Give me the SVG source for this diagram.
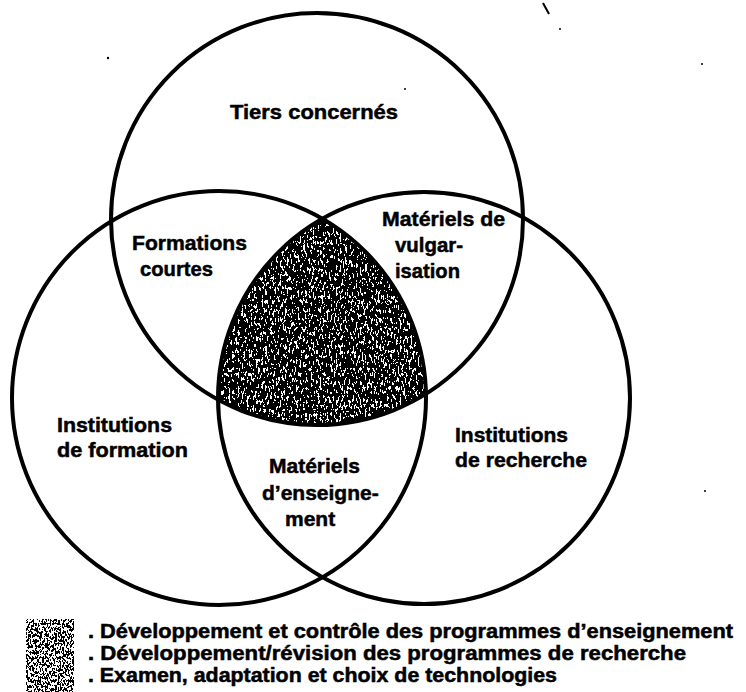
<svg xmlns="http://www.w3.org/2000/svg" width="746" height="692" viewBox="0 0 746 692">
<style>
.ring{fill:none;stroke:#000;stroke-width:4}
.lbl{font-family:"Liberation Sans",Arial,Helvetica,sans-serif;font-weight:bold;font-size:21px;fill:#000;stroke:#000;stroke-width:0.5}
.leg{font-family:"Liberation Sans",Arial,Helvetica,sans-serif;font-weight:bold;font-size:19.5px;fill:#000;stroke:#000;stroke-width:0.5}
.speck{fill:#000}
</style>
<defs>
<filter id="grainDark" x="0" y="0" width="1" height="1" color-interpolation-filters="sRGB">
<feTurbulence type="fractalNoise" baseFrequency="0.55 0.22" numOctaves="3" seed="7" result="t"/>
<feColorMatrix in="t" type="matrix" values="0 0 0 0 0  0 0 0 0 0  0 0 0 0 0  1 0 0 0 0" result="a"/>
<feComponentTransfer in="a"><feFuncA type="discrete" tableValues="1 1 1 1 1 1 0 0 0 0"/></feComponentTransfer>
</filter>
<filter id="grainLight" x="0" y="0" width="1" height="1" color-interpolation-filters="sRGB">
<feTurbulence type="fractalNoise" baseFrequency="0.7 0.35" numOctaves="3" seed="11" result="t"/>
<feColorMatrix in="t" type="matrix" values="0 0 0 0 0  0 0 0 0 0  0 0 0 0 0  1 0 0 0 0" result="a"/>
<feComponentTransfer in="a"><feFuncA type="discrete" tableValues="1 1 1 1 1 0 0 0 0 0"/></feComponentTransfer>
</filter>
<clipPath id="coreClip">
<path d="M322.5 218.7 A206 206 0 0 0 218 399.7 A206 206 0 0 0 425.9 393.8 A207 207 0 0 0 322.5 218.7 Z"/>
</clipPath>
</defs>
<rect x="0" y="0" width="746" height="692" fill="#fff"/>

<g id="core-intersection">
<g clip-path="url(#coreClip)">
<rect x="210" y="210" width="225" height="225" fill="#000" filter="url(#grainDark)"/>
</g>
</g>

<g id="connectors"/>

<g id="node-tiers">
<circle class="ring" cx="317" cy="219" r="206"/>
<text class="lbl" x="230" y="119" textLength="168" lengthAdjust="spacingAndGlyphs">Tiers concernés</text>
</g>

<g id="node-formation">
<circle class="ring" cx="219" cy="398" r="207"/>
<text class="lbl" x="57" y="432" textLength="115" lengthAdjust="spacingAndGlyphs">Institutions</text>
<text class="lbl" x="57" y="457" textLength="131" lengthAdjust="spacingAndGlyphs">de formation</text>
</g>

<g id="node-recherche">
<circle class="ring" cx="424" cy="398" r="206"/>
<text class="lbl" x="455" y="442" textLength="113" lengthAdjust="spacingAndGlyphs">Institutions</text>
<text class="lbl" x="455" y="467" textLength="132" lengthAdjust="spacingAndGlyphs">de recherche</text>
</g>

<g id="overlap-formations-courtes">
<text class="lbl" x="132" y="250" textLength="115" lengthAdjust="spacingAndGlyphs">Formations</text>
<text class="lbl" x="140" y="276" textLength="73" lengthAdjust="spacingAndGlyphs">courtes</text>
</g>

<g id="overlap-vulgarisation">
<text class="lbl" x="382" y="226" textLength="123" lengthAdjust="spacingAndGlyphs">Matériels de</text>
<text class="lbl" x="395" y="252" textLength="68" lengthAdjust="spacingAndGlyphs">vulgar-</text>
<text class="lbl" x="395" y="278" textLength="65" lengthAdjust="spacingAndGlyphs">isation</text>
</g>

<g id="overlap-enseignement">
<text class="lbl" x="269" y="473">Matériels</text>
<text class="lbl" x="262" y="500">d’enseigne-</text>
<text class="lbl" x="285" y="526">ment</text>
</g>

<g id="legend">
<rect x="26" y="619" width="48" height="73" fill="#000" filter="url(#grainLight)"/>
<text class="leg" x="88" y="638" textLength="645" lengthAdjust="spacingAndGlyphs">. Développement et contrôle des programmes d’enseignement</text>
<text class="leg" x="88" y="660" textLength="598" lengthAdjust="spacingAndGlyphs">. Développement/révision des programmes de recherche</text>
<text class="leg" x="88" y="682" textLength="469" lengthAdjust="spacingAndGlyphs">. Examen, adaptation et choix de technologies</text>
</g>

<g id="specks">
<path d="M543 3 L549 14" stroke="#000" stroke-width="2" fill="none"/>
<circle class="speck" cx="560" cy="29" r="1"/>
<circle class="speck" cx="108" cy="58" r="1.2"/>
<circle class="speck" cx="702" cy="64" r="1"/>
<circle class="speck" cx="405" cy="89" r="1"/>
<circle class="speck" cx="705" cy="491" r="1"/>
</g>
</svg>
